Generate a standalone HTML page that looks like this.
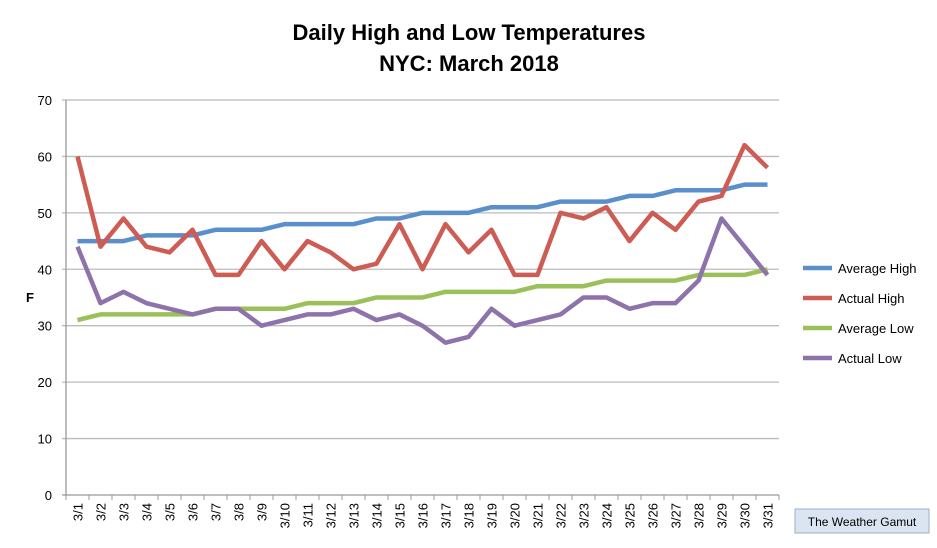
<!DOCTYPE html>
<html><head><meta charset="utf-8"><style>
body{margin:0;background:#fff;width:937px;height:543px;overflow:hidden;font-family:"Liberation Sans",sans-serif}
</style></head><body>
<svg id="s" width="937" height="543" xmlns="http://www.w3.org/2000/svg" font-family="Liberation Sans, sans-serif">
<rect width="937" height="543" fill="#fff"/>
<text x="469" y="40" text-anchor="middle" font-size="22" font-weight="bold">Daily High and Low Temperatures</text>
<text x="469" y="71" text-anchor="middle" font-size="22" font-weight="bold">NYC: March 2018</text>
<text x="26" y="302" font-size="13" font-weight="bold">F</text>
<rect x="795" y="509" width="134" height="24" fill="#dbe5f1" stroke="#9aaecb"/>
<text x="862" y="526" text-anchor="middle" font-size="12">The Weather Gamut</text>
<g id="g"></g>
</svg>
<script>
const ns="http://www.w3.org/2000/svg",g=document.getElementById('g');
function el(t,a,txt){const e=document.createElementNS(ns,t);for(const k in a)e.setAttribute(k,a[k]);if(txt!=null)e.textContent=txt;g.appendChild(e);return e;}
const L=66,R=779,Y0=495,K=5.643,W=23;
for(let v=0;v<=70;v+=10){const y=Y0-v*K;
 el('line',{x1:L-4,y1:y,x2:v?R:R,y2:y,stroke:v?'#bbb':'#999','stroke-width':1.3});
 el('text',{x:52,y:y+5,'text-anchor':'end','font-size':13},v);}
el('line',{x1:L,y1:100,x2:L,y2:Y0,stroke:'#999','stroke-width':1.3});
for(let i=0;i<=31;i++){const x=L+i*W;el('line',{x1:x,y1:Y0,x2:x,y2:Y0+5,stroke:'#999'});}
for(let i=0;i<31;i++){const x=L+W/2+i*W+5;el('text',{x:x,y:503,'font-size':13,'text-anchor':'end',transform:`rotate(-90 ${x} 503)`},'3/'+(i+1));}
const S=[
['#5b8fcb','Average High',[45,45,45,46,46,46,47,47,47,48,48,48,48,49,49,50,50,50,51,51,51,52,52,52,53,53,54,54,54,55,55],268],
['#cd5c55','Actual High',[60,44,49,44,43,47,39,39,45,40,45,43,40,41,48,40,48,43,47,39,39,50,49,51,45,50,47,52,53,62,58],298],
['#9bc05a','Average Low',[31,32,32,32,32,32,33,33,33,33,34,34,34,35,35,35,36,36,36,36,37,37,37,38,38,38,38,39,39,39,40],328],
['#8d73aa','Actual Low',[44,34,36,34,33,32,33,33,30,31,32,32,33,31,32,30,27,28,33,30,31,32,35,35,33,34,34,38,49,44,39],358]];
for(const [c,n,d,ly] of S){
 el('polyline',{points:d.map((v,i)=>(L+W/2+i*W)+','+(Y0-v*K)).join(' '),fill:'none',stroke:c,'stroke-width':4.5,'stroke-linejoin':'round'});
 el('line',{x1:803,y1:ly,x2:832,y2:ly,stroke:c,'stroke-width':4.5});
 el('text',{x:838,y:ly+5,'font-size':13},n);}
</script>
</body></html>
